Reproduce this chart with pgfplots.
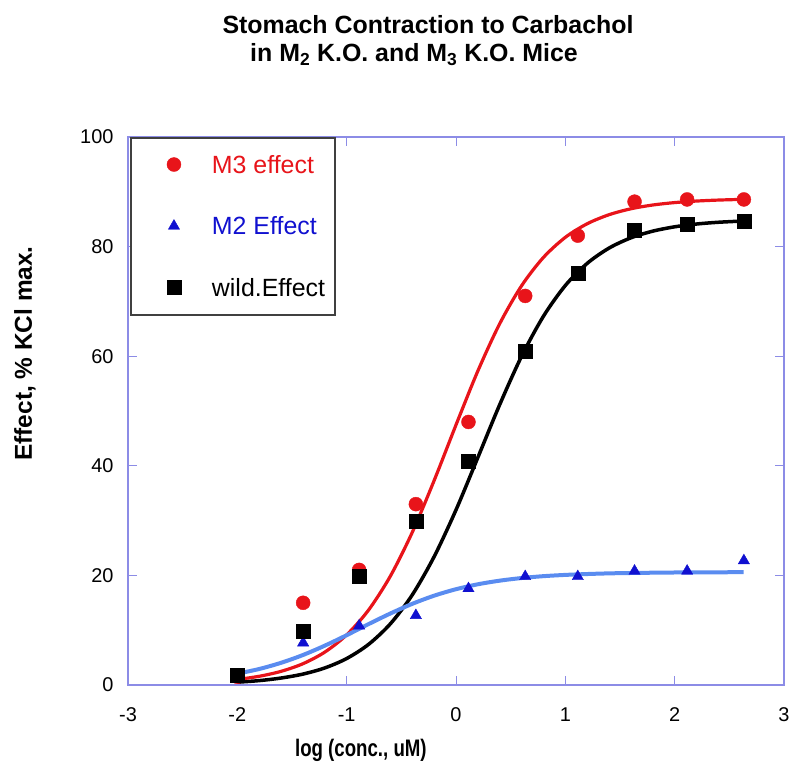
\documentclass[border=0pt]{standalone}
\usepackage{pgfplots}
\pgfplotsset{compat=1.18}
\usepackage{fontspec}
\setmainfont{Liberation Sans}
\newfontfamily\narrowbold[FakeStretch=0.78]{Liberation Sans}
\definecolor{axisblue}{RGB}{140,140,230}
\definecolor{m3red}{RGB}{232,20,26}
\definecolor{m2blue}{RGB}{16,16,208}
\definecolor{curveblue}{RGB}{90,140,240}
\definecolor{legendgray}{RGB}{64,64,64}

\pgfplotstableread{
x y
-2 1.5
-1.398 15.0
-0.886 21.0
-0.367 33.0
0.114 48.0
0.633 71.0
1.114 82.0
1.633 88.2
2.114 88.6
2.633 88.6
}\mthree

\pgfplotstableread{
x y
-2 1.5
-1.398 7.7
-0.886 10.8
-0.367 12.7
0.114 17.6
0.633 19.8
1.114 19.8
1.633 20.8
2.114 20.8
2.633 22.7
}\mtwo

\pgfplotstableread{
x y
-2 1.8
-1.398 9.9
-0.886 19.9
-0.367 29.9
0.114 40.9
0.633 61.0
1.114 75.2
1.633 83.0
2.114 84.1
2.633 84.7
}\wild

\pgfplotstableread{
x y
-2 1.01
-1.8 1.59
-1.6 2.49
-1.4 3.88
-1.2 6.00
-1.0 9.15
-0.8 13.67
-0.6 19.88
-0.4 27.86
-0.2 37.31
0 47.46
0.2 57.31
0.4 65.94
0.6 72.86
0.8 78.03
1.0 81.69
1.2 84.17
1.4 85.82
1.6 86.90
1.8 87.59
2.0 88.03
2.2 88.31
2.4 88.49
2.63 88.62
}\fitred

\pgfplotstableread{
x y
-2 0.51
-1.8 0.80
-1.6 1.27
-1.4 1.99
-1.2 3.11
-1.0 4.83
-0.8 7.41
-0.6 11.17
-0.4 16.44
-0.2 23.42
0 31.95
0.2 41.52
0.4 51.17
0.6 59.99
0.8 67.30
1.0 72.90
1.2 76.94
1.4 79.73
1.6 81.60
1.8 82.82
2.0 83.61
2.2 84.12
2.4 84.44
2.63 84.67
}\fitblack

\pgfplotstableread{
x y
-2 2.07
-1.8 2.92
-1.6 4.05
-1.4 5.47
-1.2 7.18
-1.0 9.09
-0.8 11.11
-0.6 13.05
-0.4 14.81
-0.2 16.30
0 17.48
0.2 18.38
0.4 19.04
0.6 19.52
0.8 19.86
1.0 20.09
1.2 20.25
1.4 20.37
1.6 20.44
1.8 20.49
2.0 20.53
2.2 20.55
2.4 20.57
2.63 20.58
}\fitblue

\begin{document}
\begin{tikzpicture}
\path[use as bounding box] (0,0) rectangle (800bp,778bp);
\node[anchor=base, font=\fontsize{25}{30}\selectfont\bfseries] at (428bp,744bp) {Stomach Contraction to Carbachol};
\node[anchor=base, font=\fontsize{25}{30}\selectfont\bfseries] at (414bp,716bp) {in M\textsubscript{2} K.O. and M\textsubscript{3} K.O. Mice};
\begin{axis}[
  at={(128bp,93bp)}, anchor=south west,
  scale only axis, width=656bp, height=548bp,
  xmin=-3, xmax=3, ymin=0, ymax=100,
  xtick={-3,-2,-1,0,1,2,3}, ytick={0,20,40,60,80,100},
  tick align=inside,
  axis line style={color=axisblue, line width=1.2bp},
  major tick style={color=axisblue, line width=1bp},
  major tick length=9bp,
  /pgf/number format/assume math mode=true,
  xticklabel style={font=\fontsize{20}{24}\selectfont, yshift=-19bp},
  yticklabel style={font=\fontsize{20}{24}\selectfont, xshift=-11bp},
  xlabel={log (conc., uM)},
  ylabel={Effect, \% KCl max.},
  xlabel style={at={(axis description cs:0.355,-0.119)}, anchor=center, font=\fontsize{24}{28}\narrowbold\bfseries},
  ylabel style={at={(axis description cs:-0.157,0.605)}, anchor=center, font=\fontsize{24.5}{28}\selectfont\bfseries},
  clip=false,
  legend style={at={(axis description cs:0.003,1)}, anchor=north west,
    draw=legendgray, line width=2bp, inner xsep=10bp, inner ysep=17bp,
    row sep=42bp, font=\fontsize{25}{30}\selectfont,
    nodes={inner sep=0pt}, cells={anchor=base west},
    /tikz/every odd column/.append style={column sep=30bp}},
  legend image code/.code={\path (0bp,0bp) (39bp,0bp); \draw[#1] plot coordinates {(32bp,8.5bp)};},
]
\addplot[black, line width=3.5bp, smooth, no marks, forget plot] table[x=x,y=y] {\fitblack};
\addplot[m3red, line width=3.2bp, smooth, no marks, forget plot] table[x=x,y=y] {\fitred};
\addplot[curveblue, line width=4bp, smooth, no marks, forget plot] table[x=x,y=y] {\fitblue};
\addplot[only marks, mark=*, mark size=7bp, color=m3red, mark options={solid, line width=0.4bp, fill=m3red}] table[x=x,y=y] {\mthree};
\addlegendentry{\textcolor{m3red}{M3 effect}}
\addplot[only marks, mark=triangle*, mark size=6.5bp, color=m2blue, mark options={solid, line width=0.4bp, fill=m2blue}] table[x=x,y=y] {\mtwo};
\addlegendentry{\textcolor{m2blue}{M2 Effect}}
\addplot[only marks, mark=square*, mark size=7bp, color=black, mark options={solid, line width=0.4bp, fill=black}] table[x=x,y=y] {\wild};
\addlegendentry{\textcolor{black}{wild.Effect}}
\end{axis}
\end{tikzpicture}
\end{document}
